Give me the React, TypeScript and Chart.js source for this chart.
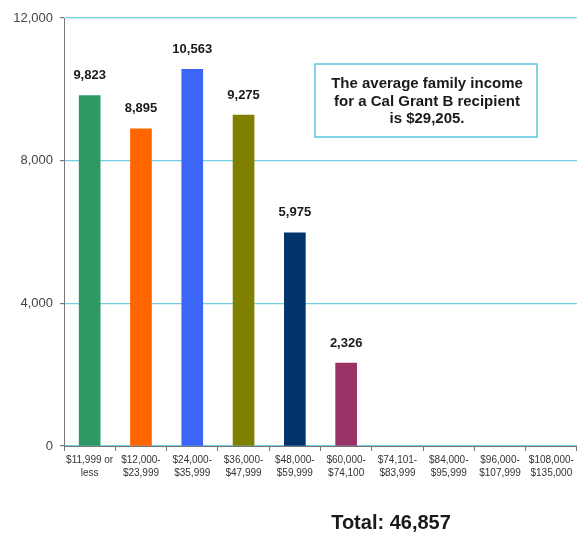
import React, { useEffect, useRef } from "react";
import { Chart, registerables } from "chart.js";

Chart.register(...registerables);

const categories: string[][] = [
  ["$11,999 or", "less"],
  ["$12,000-", "$23,999"],
  ["$24,000-", "$35,999"],
  ["$36,000-", "$47,999"],
  ["$48,000-", "$59,999"],
  ["$60,000-", "$74,100"],
  ["$74,101-", "$83,999"],
  ["$84,000-", "$95,999"],
  ["$96,000-", "$107,999"],
  ["$108,000-", "$135,000"],
];

const recipients: (number | null)[] = [9823, 8895, 10563, 9275, 5975, 2326, null, null, null, null];

const barColors: string[] = ["#2f9966", "#ff6600", "#3b66f7", "#808000", "#04356a", "#993366", "#999", "#999", "#999", "#999"];

const yTicks: number[] = [0, 4000, 8000, 12000];

const noteLines: string[] = ["The average family income", "for a Cal Grant B recipient", "is $29,205."];
const totalText = "Total: 46,857";

const FONT = "'Liberation Sans', Arial, sans-serif";

const overlayPlugin = {
  id: "overlay",
  afterDatasetsDraw(chart: any) {
    const ctx = chart.ctx;
    const meta = chart.getDatasetMeta(0);
    ctx.save();
    ctx.fillStyle = "#1a1a1a";
    ctx.font = `bold 13px ${FONT}`;
    ctx.textAlign = "center";
    ctx.textBaseline = "middle";
    meta.data.forEach((el: any, i: number) => {
      const v = recipients[i];
      if (v == null) return;
      ctx.fillText(v.toLocaleString("en-US"), el.x, el.y - 20);
    });
    ctx.restore();
  },
  afterDraw(chart: any) {
    const ctx = chart.ctx;
    ctx.save();
    // note box
    ctx.fillStyle = "#ffffff";
    ctx.fillRect(315, 64, 222, 73);
    ctx.strokeStyle = "#5cc4e0";
    ctx.lineWidth = 1.5;
    ctx.strokeRect(315, 64, 222, 73);
    ctx.fillStyle = "#1a1a1a";
    ctx.font = `bold 15px ${FONT}`;
    ctx.textAlign = "center";
    ctx.textBaseline = "middle";
    noteLines.forEach((t, i) => ctx.fillText(t, 427, 84 + i * 17.5));
    // total
    ctx.font = `bold 20px ${FONT}`;
    ctx.textBaseline = "alphabetic";
    ctx.fillText(totalText, 391, 529);
    ctx.restore();
  },
};

export default function App() {
  const ref = useRef<HTMLCanvasElement | null>(null);
  useEffect(() => {
    if (!ref.current) return;
    const chart = new Chart(ref.current, {
      type: "bar",
      data: {
        labels: categories,
        datasets: [
          {
            data: recipients,
            backgroundColor: barColors,
            barThickness: 21,
          },
        ],
      },
      options: {
        animation: false,
        responsive: true,
        maintainAspectRatio: false,
        layout: { padding: { top: 18, right: 0, bottom: 49, left: 0 } },
        plugins: { legend: { display: false }, tooltip: { enabled: false } },
        scales: {
          x: {
            grid: {
              display: true,
              drawOnChartArea: false,
              drawTicks: true,
              tickLength: 5,
              tickColor: "#777",
              offset: true,
            },
            border: { color: "#777", width: 1 },
            ticks: {
              color: "#333",
              font: { size: 10, family: FONT, lineHeight: 1.35 },
              maxRotation: 0,
              autoSkip: false,
              padding: 2,
            },
            afterFit: (s: any) => {
              s.height = 40;
            },
          },
          y: {
            min: 0,
            max: 12000,
            afterBuildTicks: (s: any) => {
              s.ticks = yTicks.map((v) => ({ value: v }));
            },
            grid: {
              color: "#72cfe3",
              tickColor: "#777",
              tickLength: 4,
              lineWidth: 1.2,
            },
            border: { color: "#777", width: 1 },
            ticks: {
              color: "#444",
              font: { size: 13, family: FONT },
              padding: 7,
              callback: (v: any) => Number(v).toLocaleString("en-US"),
            },
            afterFit: (s: any) => {
              s.width = 64;
            },
          },
        },
      },
      plugins: [overlayPlugin],
    });
    return () => chart.destroy();
  }, []);
  return (
    <div style={{ position: "fixed", left: 0, top: 0, width: 577, height: 535, background: "#fff" }}>
      <canvas ref={ref} />
    </div>
  );
}
